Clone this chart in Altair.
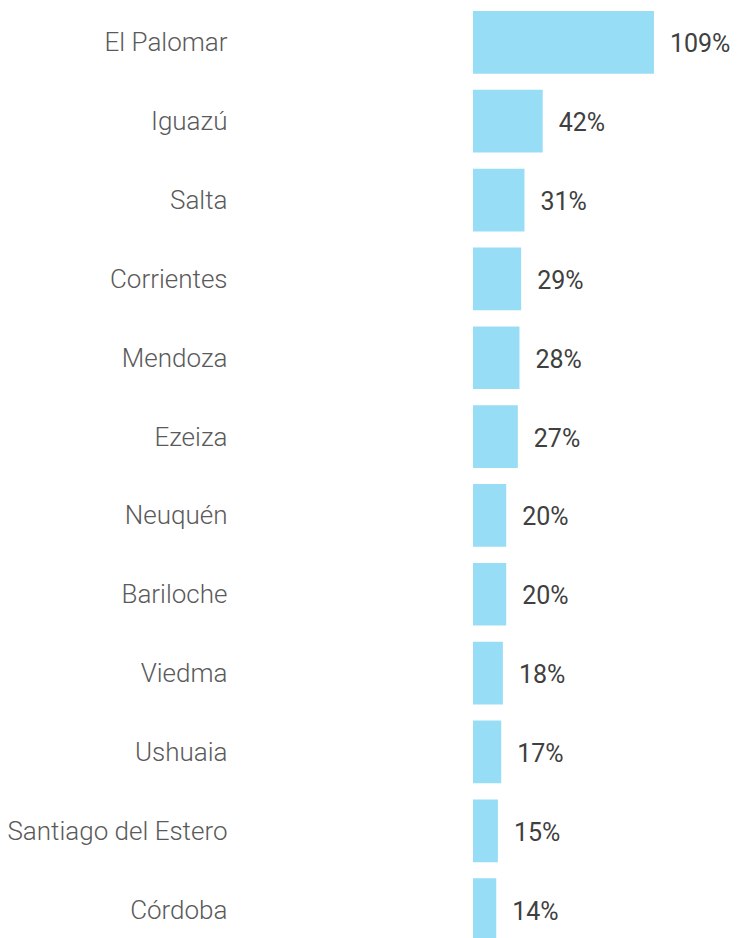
import altair as alt
import pandas as pd

airports = ["El Palomar", "Iguazú", "Salta", "Corrientes", "Mendoza", "Ezeiza",
            "Neuquén", "Bariloche", "Viedma", "Ushuaia", "Santiago del Estero", "Córdoba"]
growth = [109, 42, 31, 29, 28, 27, 20, 20, 18, 17, 15, 14]
labels = ["109%", "42%", "31%", "29%", "28%", "27%", "20%", "20%", "18%", "17%", "15%", "14%"]

df = pd.DataFrame({"airport": airports, "growth": growth, "label": labels})

y = alt.Y("airport:N", sort=airports,
          scale=alt.Scale(paddingInner=0.205, paddingOuter=0.038),
          axis=alt.Axis(title=None, ticks=False, tickSize=0, domain=False, grid=False,
                        labelFont="Roboto", labelFontWeight=300, labelFontSize=26,
                        labelColor="#5a5a5a", labelPadding=246, labelLimit=400,
                        labelOffset=1))
x = alt.X("growth:Q", scale=alt.Scale(domain=[0, 150.6], nice=False, zero=True), axis=None)

bars = alt.Chart(df).mark_bar(color="#97DDF5").encode(x=x, y=y)
text = alt.Chart(df).mark_text(align="left", baseline="middle", dx=16, dy=2,
                               font="Roboto", fontSize=25, fontWeight=400,
                               color="#404040").encode(x=x, y=y, text="label:N")

chart = (bars + text).properties(
    width=250, height=936,
    autosize=alt.AutoSizeParams(type="none"),
    padding={"left": 465, "top": 0, "right": 7, "bottom": 0},
).configure_view(stroke=None)

chart.save("out.html", embed_options={"renderer": "svg", "actions": False})
